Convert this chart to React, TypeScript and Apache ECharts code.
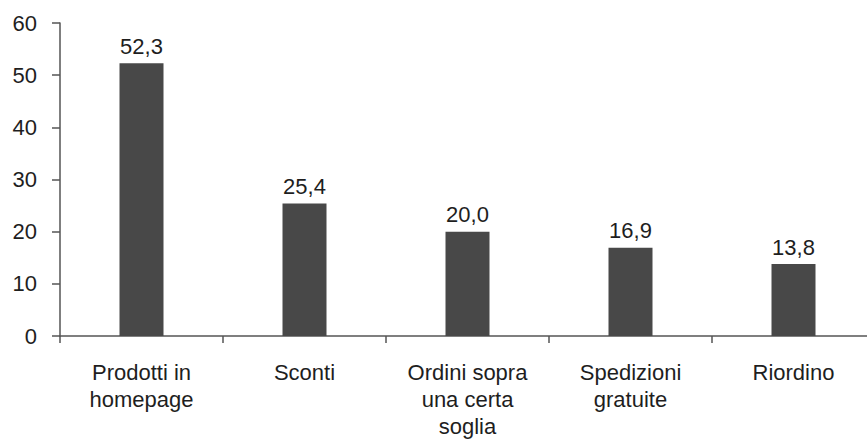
import React, { useEffect, useRef } from "react";
import * as echarts from "echarts";

const categories = [
  "Prodotti in\nhomepage",
  "Sconti",
  "Ordini sopra\nuna certa\nsoglia",
  "Spedizioni\ngratuite",
  "Riordino",
];
const values = [52.3, 25.4, 20.0, 16.9, 13.8];
const yTicks = { min: 0, max: 60, interval: 10 };

const FONT = "'Liberation Sans', Arial, sans-serif";
const TEXT = "#1e1e1e";
const AXIS = "#555555";

export default function App() {
  const ref = useRef<HTMLDivElement>(null);
  useEffect(() => {
    if (!ref.current) return;
    const chart = echarts.init(ref.current, undefined, { renderer: "svg" });
    chart.setOption({
      animation: false,
      backgroundColor: "#ffffff",
      grid: { left: 60, top: 23, width: 815, height: 313, containLabel: false },
      xAxis: {
        type: "category",
        data: categories,
        boundaryGap: true,
        axisLine: { show: true, lineStyle: { color: AXIS, width: 1.5 } },
        axisTick: { show: true, length: 7, lineStyle: { color: AXIS, width: 1.5 } },
        axisLabel: {
          interval: 0,
          margin: 23,
          color: TEXT,
          fontFamily: FONT,
          fontSize: 22,
          lineHeight: 27,
        },
      },
      yAxis: {
        type: "value",
        min: yTicks.min,
        max: yTicks.max,
        interval: yTicks.interval,
        splitLine: { show: false },
        axisLine: { show: true, lineStyle: { color: AXIS, width: 1.5 } },
        axisTick: { show: true, length: 8, lineStyle: { color: AXIS, width: 1.5 } },
        axisLabel: {
          margin: 23,
          color: TEXT,
          fontFamily: FONT,
          fontSize: 22,
        },
      },
      series: [
        {
          type: "bar",
          data: values,
          barWidth: 44,
          itemStyle: { color: "#484848" },
          label: {
            show: true,
            position: "top",
            distance: 6,
            color: TEXT,
            fontFamily: FONT,
            fontSize: 22,
            formatter: (p: any) => Number(p.value).toFixed(1).replace(".", ","),
          },
        },
      ],
    });
    return () => chart.dispose();
  }, []);
  return (
    <div
      style={{
        position: "fixed",
        left: 0,
        top: 0,
        width: 867,
        height: 443,
        overflow: "hidden",
        background: "#fff",
      }}
    >
      <div ref={ref} style={{ width: 880, height: 443 }} />
    </div>
  );
}
